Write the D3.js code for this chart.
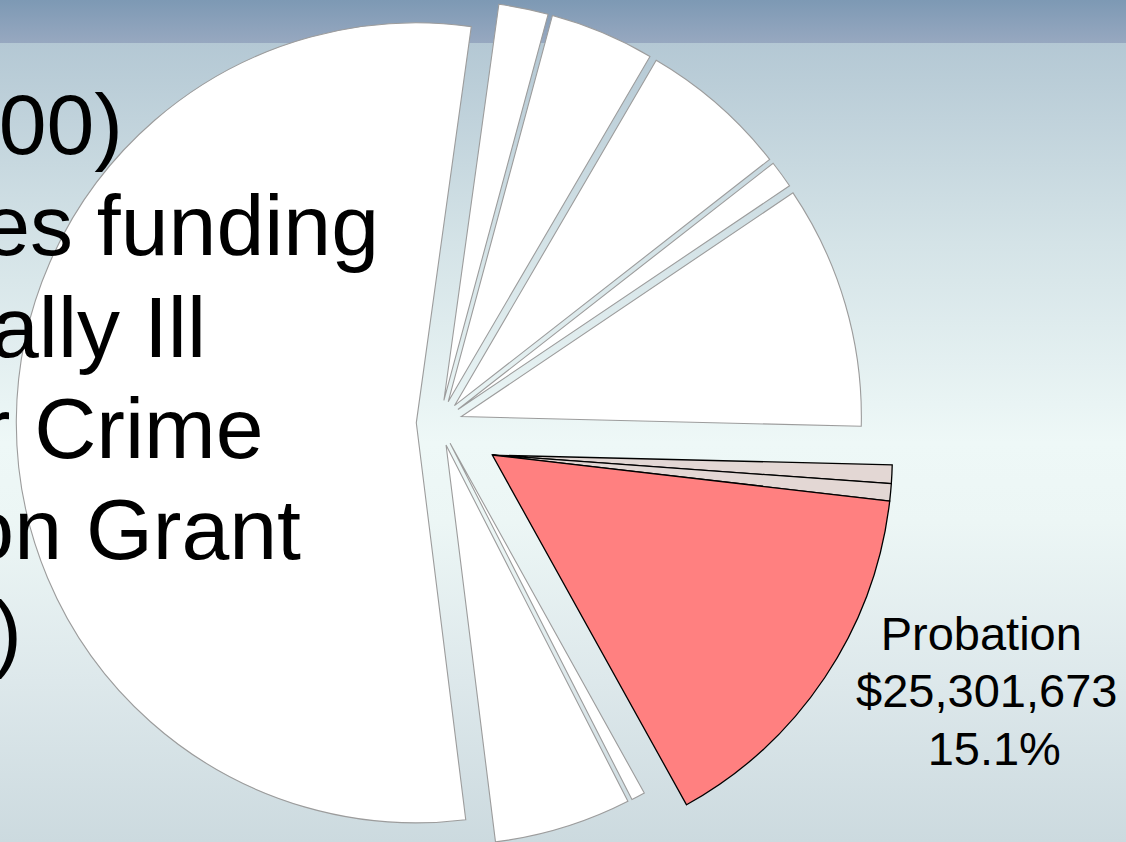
<!DOCTYPE html>
<html>
<head>
<meta charset="utf-8">
<script src="https://cdn.jsdelivr.net/npm/d3@7"></script>
<style>
  html, body { margin: 0; padding: 0; overflow: hidden; background: #ffffff; }
  svg { display: block; }
</style>
</head>
<body>
<svg id="chart" width="1126" height="842"></svg>
<script>
// Allocation shares, listed clockwise from the top of the pie.
const categories = [
  "Agency A", "Agency B", "Agency C", "Agency D", "Agency E",
  "Probation (part 2)", "Probation (part 3)", "Probation",
  "Agency F", "Agency G", "All other"
];
const amounts = [
  3351000, 7074000, 10101000, 1862000, 16476000,
  1257000, 1163000, 25301673,
  932000, 9281000, 90762000
];
// Slices that share a group are pulled out of the pie together.
const groups = [
  "", "", "", "", "",
  "probation", "probation", "probation",
  "", "", ""
];
const labelledCategory = "Probation";

// Slide text lines that sit over the chart.
const slideLines = ["00)", "es funding", "ally Ill", "r Crime", "on Grant", ")"];

const W = 1126, H = 842;
const FONT = "'Liberation Sans', Arial, Helvetica, sans-serif";
const deg = Math.PI / 180;

const data = categories.map((c, i) => ({ category: c, amount: amounts[i], group: groups[i] }));
const total = d3.sum(amounts);

const svg = d3.select("#chart");
const defs = svg.append("defs");

// Background: title band and body gradient
const band = defs.append("linearGradient").attr("id", "bandGrad")
  .attr("x1", 0).attr("y1", 0).attr("x2", 0).attr("y2", 1);
band.append("stop").attr("offset", 0).attr("stop-color", "#7d99b4");
band.append("stop").attr("offset", 1).attr("stop-color", "#97a8c0");

const body = defs.append("linearGradient").attr("id", "bodyGrad")
  .attr("x1", 0).attr("y1", 0).attr("x2", 0).attr("y2", 1);
[[0, "#b4c8d4"], [0.25, "#d4e3e7"], [0.5, "#eef8f7"], [0.6, "#ecf6f5"],
 [0.8, "#dde8eb"], [1, "#ccdadf"]].forEach(([o, c]) =>
  body.append("stop").attr("offset", o).attr("stop-color", c));

const bandH = 43;
svg.append("rect").attr("x", 0).attr("y", 0).attr("width", W).attr("height", bandH)
  .attr("fill", "url(#bandGrad)");
svg.append("rect").attr("x", 0).attr("y", bandH).attr("width", W).attr("height", H - bandH)
  .attr("fill", "url(#bodyGrad)");

// Pie
const cx = 439.3, cy = 423, R = 400;
const startAngle = 7.9 * deg;
const pie = d3.pie().sort(null).value(d => d.amount)
  .startAngle(startAngle).endAngle(startAngle + 2 * Math.PI);
const arcs = pie(data);
const arc = d3.arc().innerRadius(0).outerRadius(R);

// angular extent of each exploded group
const groupExtent = d3.rollup(arcs.filter(a => a.data.group),
  v => [d3.min(v, a => a.startAngle), d3.max(v, a => a.endAngle)],
  a => a.data.group);

const pullSingle = 23, pullGroup = 62;
function offsetOf(a) {
  if (a.data.group) {
    const [s, e] = groupExtent.get(a.data.group);
    return d3.pointRadial((s + e) / 2, pullGroup);
  }
  return d3.pointRadial((a.startAngle + a.endAngle) / 2, pullSingle);
}

const fillOf = d => d.category === labelledCategory ? "#ff8080"
  : (d.group ? "#e3d7d4" : "#ffffff");

const pieG = svg.append("g").attr("transform", `translate(${cx},${cy})`);
const ordered = arcs.filter(a => !a.data.group).concat(arcs.filter(a => a.data.group));
pieG.selectAll("path.slice").data(ordered).join("path")
  .attr("class", "slice")
  .attr("d", arc)
  .attr("transform", a => { const [x, y] = offsetOf(a); return `translate(${x},${y})`; })
  .attr("fill", a => fillOf(a.data))
  .attr("stroke", a => a.data.group ? "#000000" : "#9c9c9c")
  .attr("stroke-width", a => a.data.group ? 1.3 : 1.1)
  .attr("stroke-linejoin", "miter");

// Slide text lines, right ends trimmed at the left edge of the page
const lineEnds = [123, 379, 206, 263.5, 301, 22];
const lineTop = 154, lineStep = 101.3;
svg.append("g").selectAll("text").data(slideLines).join("text")
  .attr("x", (d, i) => lineEnds[i])
  .attr("y", (d, i) => lineTop + i * lineStep)
  .attr("text-anchor", "end")
  .attr("font-family", FONT)
  .attr("font-size", 86)
  .attr("fill", "#000000")
  .text(d => d);

// Data label for the highlighted slice
const target = arcs.find(a => a.data.category === labelledCategory);
const mid = (target.startAngle + target.endAngle) / 2;
const [lx, ly] = d3.pointRadial(mid - 7.8 * deg, R + 209);
const labelLines = [
  target.data.category,
  d3.format("$,")(target.data.amount),
  d3.format(".1%")(target.data.amount / total)
];
const lineDx = [-5.5, 0, 7.5], lineDy = [-40, 17, 75];
const label = svg.append("text")
  .attr("font-family", FONT)
  .attr("font-size", 47)
  .attr("fill", "#000000")
  .attr("text-anchor", "middle");
label.selectAll("tspan").data(labelLines).join("tspan")
  .attr("x", (d, i) => cx + lx + lineDx[i])
  .attr("y", (d, i) => cy + ly + lineDy[i])
  .text(d => d);
</script>
</body>
</html>
